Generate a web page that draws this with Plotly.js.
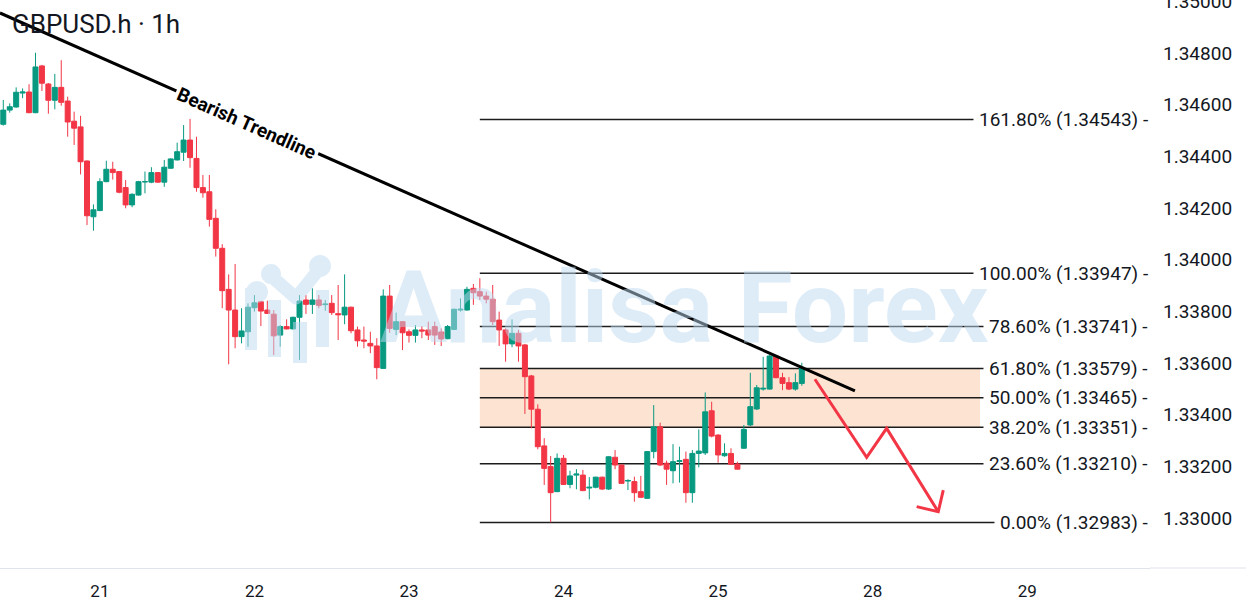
<!DOCTYPE html>
<html><head><meta charset="utf-8">
<script src="https://cdn.plot.ly/plotly-3.0.1.min.js"></script>
<style>html,body{margin:0;padding:0;background:#fff;overflow:hidden}#chart{width:1246px;height:612px}</style>
</head><body><div id="chart"></div>
<script>
// ---- time axis: hourly sessions (weekend skipped) ----
const sessions = [['2025-07-18',9,23],['2025-07-21',0,23],['2025-07-22',0,23],['2025-07-23',0,23],['2025-07-24',0,23],['2025-07-25',0,13]];
const times = [];
sessions.forEach(([d,a,b]) => { for (let h=a; h<=b; h++) times.push(d+' '+String(h).padStart(2,'0')+':00'); });

// ---- OHLC ----
const open = [1.34524,1.34579,1.34591,1.34645,1.34649,1.34569,1.34750,1.34680,1.34617,1.34667,
1.34614,1.34536,1.34514,1.34382,1.34166,1.34190,1.34302,1.34350,1.34341,1.34279,
1.34212,1.34250,1.34301,1.34300,1.34337,1.34300,1.34354,1.34386,1.34416,1.34463,
1.34392,1.34279,1.34263,1.34160,1.34044,1.33885,1.33805,1.33702,1.33721,1.33814,
1.33837,1.33805,1.33789,1.33708,1.33741,1.33732,1.33777,1.33844,1.33827,1.33844,
1.33826,1.33831,1.33791,1.33786,1.33816,1.33728,1.33689,1.33676,1.33666,1.33579,
1.33859,1.33730,1.33760,1.33721,1.33707,1.33728,1.33728,1.33741,1.33720,1.33694,
1.33730,1.33805,1.33805,1.33889,1.33876,1.33859,1.33847,1.33766,1.33728,1.33674,
1.33715,1.33670,1.33550,1.33421,1.33279,1.33199,1.33102,1.33231,1.33130,1.33166,
1.33166,1.33116,1.33119,1.33158,1.33112,1.33235,1.33205,1.33143,1.33141,1.33102,
1.33076,1.33257,1.33353,1.33212,1.33183,1.33219,1.33227,1.33098,1.33250,1.33252,
1.33415,1.33321,1.33241,1.33250,1.33209,1.33270,1.33360,1.33422,1.33499,1.33499,
1.33627,1.33543,1.33524,1.33499,1.33521];
const high = [1.34618,1.34605,1.34667,1.34663,1.34679,1.34801,1.34754,1.34684,1.34719,1.34772,
1.34631,1.34573,1.34557,1.34384,1.34214,1.34315,1.34383,1.34379,1.34343,1.34308,
1.34257,1.34305,1.34341,1.34358,1.34339,1.34386,1.34392,1.34453,1.34521,1.34545,
1.34476,1.34328,1.34328,1.34195,1.34060,1.33943,1.33983,1.33812,1.33831,1.33863,
1.33841,1.33841,1.33805,1.33747,1.33769,1.33779,1.33863,1.33863,1.33889,1.33863,
1.33844,1.33863,1.33902,1.33943,1.33818,1.33741,1.33741,1.33721,1.33696,1.33885,
1.33902,1.33795,1.33762,1.33730,1.33747,1.33743,1.33760,1.33760,1.33734,1.33747,
1.33810,1.33850,1.33895,1.33906,1.33928,1.33876,1.33902,1.33799,1.33734,1.33769,
1.33728,1.33674,1.33554,1.33440,1.33309,1.33240,1.33250,1.33244,1.33183,1.33189,
1.33186,1.33158,1.33160,1.33160,1.33239,1.33263,1.33207,1.33150,1.33160,1.33163,
1.33259,1.33437,1.33369,1.33222,1.33286,1.33276,1.33257,1.33263,1.33343,1.33486,
1.33450,1.33324,1.33289,1.33270,1.33218,1.33360,1.33562,1.33515,1.33624,1.33631,
1.33631,1.33562,1.33545,1.33560,1.33601];
const low = [1.34519,1.34569,1.34588,1.34625,1.34567,1.34567,1.34653,1.34565,1.34582,1.34596,
1.34476,1.34444,1.34330,1.34134,1.34112,1.34188,1.34300,1.34310,1.34257,1.34199,
1.34203,1.34248,1.34257,1.34296,1.34298,1.34282,1.34352,1.34384,1.34382,1.34356,
1.34263,1.34240,1.34128,1.34012,1.33812,1.33595,1.33657,1.33676,1.33663,1.33799,
1.33743,1.33790,1.33631,1.33663,1.33730,1.33730,1.33612,1.33790,1.33790,1.33812,
1.33802,1.33786,1.33689,1.33750,1.33715,1.33663,1.33657,1.33638,1.33537,1.33577,
1.33717,1.33708,1.33650,1.33679,1.33679,1.33696,1.33689,1.33670,1.33666,1.33692,
1.33728,1.33799,1.33803,1.33825,1.33844,1.33831,1.33747,1.33666,1.33605,1.33661,
1.33605,1.33403,1.33347,1.33266,1.33128,1.32983,1.33100,1.33128,1.33115,1.33111,
1.33104,1.33072,1.33115,1.33108,1.33108,1.33189,1.33132,1.33108,1.33063,1.33078,
1.33074,1.33231,1.33201,1.33128,1.33134,1.33137,1.33059,1.33059,1.33196,1.33244,
1.33312,1.33214,1.33237,1.33205,1.33188,1.33268,1.33356,1.33418,1.33493,1.33497,
1.33541,1.33495,1.33495,1.33493,1.33512];
const close = [1.34579,1.34592,1.34648,1.34649,1.34569,1.34746,1.34683,1.34617,1.34667,1.34609,
1.34533,1.34509,1.34379,1.34170,1.34193,1.34302,1.34350,1.34337,1.34261,1.34212,
1.34253,1.34302,1.34302,1.34337,1.34300,1.34358,1.34390,1.34418,1.34463,1.34395,
1.34279,1.34259,1.34156,1.34044,1.33880,1.33805,1.33702,1.33724,1.33816,1.33833,
1.33801,1.33792,1.33705,1.33741,1.33732,1.33777,1.33840,1.33827,1.33844,1.33823,
1.33828,1.33795,1.33787,1.33816,1.33725,1.33686,1.33685,1.33666,1.33582,1.33859,
1.33734,1.33760,1.33717,1.33707,1.33728,1.33724,1.33708,1.33708,1.33693,1.33741,
1.33808,1.33808,1.33885,1.33872,1.33859,1.33847,1.33760,1.33728,1.33674,1.33715,
1.33666,1.33547,1.33421,1.33276,1.33192,1.33098,1.33231,1.33130,1.33163,1.33170,
1.33106,1.33119,1.33158,1.33112,1.33237,1.33205,1.33134,1.33145,1.33098,1.33080,
1.33257,1.33353,1.33205,1.33189,1.33218,1.33222,1.33098,1.33250,1.33259,1.33411,
1.33317,1.33244,1.33250,1.33208,1.33189,1.33343,1.33431,1.33504,1.33502,1.33627,
1.33543,1.33521,1.33499,1.33524,1.33583];

// ---- Fibonacci levels ----
const fibPct = ['161.80%','100.00%','78.60%','61.80%','50.00%','38.20%','23.60%','0.00%'];
const fibLevel = [1.34543,1.33947,1.33741,1.33579,1.33465,1.33351,1.33210,1.32983];
const fibStart = '2025-07-23 11:00';
const zoneEnd = '2025-07-28 16:40';

// ---- drawings ----
const trendT = ['2025-07-18 08:29','2025-07-25 21:15'];
const trendP = [1.34955,1.33492];
const arrowT = ['2025-07-25 15:02','2025-07-25 23:04','2025-07-28 02:10','2025-07-28 10:11'];
const arrowP = [1.33537,1.33235,1.33347,1.33024];
const headT = ['2025-07-28 06:50','2025-07-28 10:11','2025-07-28 10:58'];
const headP = [1.33044,1.33024,1.33108];

// ---- axes ----
const xTickVals = ['2025-07-21','2025-07-22','2025-07-23','2025-07-24','2025-07-25','2025-07-28','2025-07-29'];
const xTickText = ['21','22','23','24','25','28','29'];
const yTickVals = [1.330,1.332,1.334,1.336,1.338,1.340,1.342,1.344,1.346,1.348,1.350];
const xRange = ['2025-07-18 08:29:24','2025-07-29 19:04'];
const yRange = [1.328064,1.350052];

const FONT = 'Roboto, "Noto Sans", sans-serif';
const TXT = '#131722';
const GREEN = '#089981', RED = '#f23645';
const WM = 'rgba(189,217,241,0.5)';

const traces = [
  {type:'candlestick', x:times, open:open, high:high, low:low, close:close,
   increasing:{line:{color:GREEN,width:1}, fillcolor:GREEN},
   decreasing:{line:{color:RED,width:1}, fillcolor:RED},
   whiskerwidth:0, hoverinfo:'skip'},
  {type:'scatter', mode:'lines', x:trendT, y:trendP, line:{color:'#000000', width:3}, hoverinfo:'skip'},
  {type:'scatter', mode:'lines', x:arrowT, y:arrowP, line:{color:RED, width:3}, hoverinfo:'skip'},
  {type:'scatter', mode:'lines', x:headT, y:headP, line:{color:RED, width:3}, hoverinfo:'skip'}
];

const shapes = [];
shapes.push({type:'rect', xref:'x', yref:'y', x0:fibStart, x1:zoneEnd, y0:fibLevel[5], y1:fibLevel[3],
  fillcolor:'#fde4d2', line:{width:0}, layer:'below'});
fibLevel.forEach(v => shapes.push({type:'line', xref:'x', yref:'y', x0:fibStart, x1:xRange[1], y0:v, y1:v,
  line:{color:'#1c1c1c', width:1.5}, layer:'below'}));
shapes.push({type:'line', xref:'paper', yref:'paper', x0:1.0, x1:1.09, y0:0, y1:0, line:{color:'#e0e3eb', width:1}});

// watermark logo (pixel geometry -> paper)
const PW = 1150, PH = 568;
const px = (x) => (x/PW).toFixed(5), py = (y) => ((PH-y)/PH).toFixed(5);
function poly(pts){ return 'M' + pts.map(p => px(p[0])+','+py(p[1])).join('L') + 'Z'; }
function circ(cx,cy,r){ const pts=[]; for(let i=0;i<24;i++){const t=-i*Math.PI*2/24; pts.push([cx+r*Math.cos(t), cy+r*Math.sin(t)]);} return poly(pts); }
function rect(x0,y0,x1,y1){ return poly([[x0,y0],[x0,y1],[x1,y1],[x1,y0]]); }
function seg(a,b,w){ const dx=b[0]-a[0], dy=b[1]-a[1], L=Math.hypot(dx,dy); const nx=-dy/L*w/2, ny=dx/L*w/2;
  return poly([[a[0]+nx,a[1]+ny],[b[0]+nx,b[1]+ny],[b[0]-nx,b[1]-ny],[a[0]-nx,a[1]-ny]]); }
let logo = '';
logo += circ(257,292,11) + circ(271,274,10) + circ(320,266,11);
logo += seg([271,276],[296,298],13) + seg([296,298],[320,268],13) + circ(296,298,6.5);
logo += rect(245,288,257,350) + rect(268,300,281,357) + rect(293,322,307,363) + rect(316,290,329,347);
shapes.push({type:'path', xref:'paper', yref:'paper', path:logo, fillcolor:WM, line:{width:0}, fillrule:'nonzero', layer:'above'});

const annotations = [];
annotations.push({xref:'x', yref:'y', x:'2025-07-21 22:50', y:1.34529, text:'<b>Bearish Trendline</b>', showarrow:false,
  textangle:23.84, bgcolor:'#ffffff', borderpad:2, font:{family:FONT, size:19, color:'#000000'}});
fibLevel.forEach((v,i) => annotations.push({xref:'paper', yref:'y', x:1, xanchor:'right', xshift:4, y:v, yanchor:'middle',
  text:fibPct[i]+' ('+v.toFixed(5)+') -', showarrow:false, bgcolor:'#ffffff', borderpad:5,
  font:{family:FONT, size:19, color:TXT}}));
annotations.push({xref:'paper', yref:'paper', x:684/PW, y:(PH-307)/PH, xanchor:'center', yanchor:'middle',
  text:'<b>Analisa Forex</b>', showarrow:false, font:{family:FONT, size:100, color:WM}});

const layout = {
  width:1246, height:612,
  margin:{l:0, r:96, t:0, b:44, pad:0},
  paper_bgcolor:'#ffffff', plot_bgcolor:'#ffffff',
  showlegend:false, hovermode:false, dragmode:false,
  boxgap:0.12, boxgroupgap:0.12,
  title:{text:'GBPUSD.h · 1h', xref:'container', yref:'container', x:12/1246, xanchor:'left', y:1-24/612, yanchor:'middle',
    font:{family:FONT, size:26, color:TXT}},
  xaxis:{type:'date', range:xRange, rangebreaks:[{bounds:['sat','mon']}], rangeslider:{visible:false},
    tickmode:'array', tickvals:xTickVals, ticktext:xTickText, ticks:'', showgrid:false, zeroline:false,
    showline:true, linecolor:'#e0e3eb', linewidth:1, ticklabelstandoff:8,
    tickfont:{family:FONT, size:17, color:TXT}, fixedrange:true},
  yaxis:{side:'right', range:yRange, tickmode:'array', tickvals:yTickVals, ticktext:yTickVals.map(v=>v.toFixed(5)),
    ticks:'', showgrid:false, zeroline:false, showline:false, ticklabelstandoff:12, ticklabeloverflow:'allow',
    tickfont:{family:FONT, size:19, color:TXT}, fixedrange:true},
  shapes:shapes, annotations:annotations
};

Plotly.newPlot('chart', traces, layout, {displayModeBar:false, staticPlot:true});
</script></body></html>
